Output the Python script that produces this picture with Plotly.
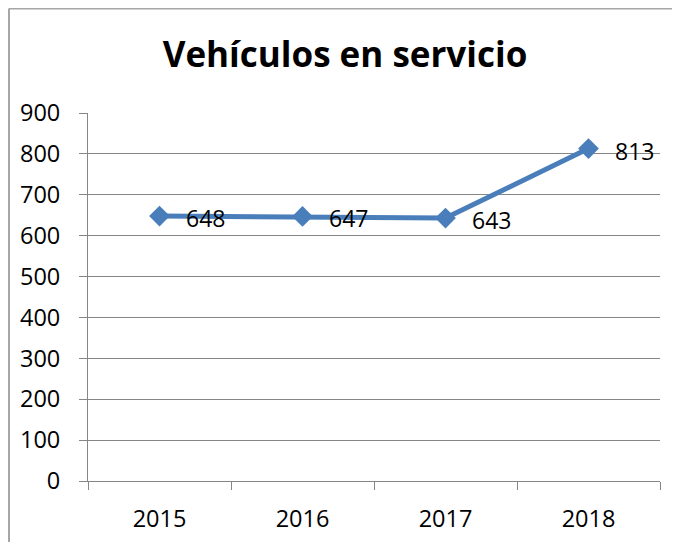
import plotly.graph_objects as go

years = ["2015", "2016", "2017", "2018"]
vehicles = [648, 647, 643, 813]
y_ticks = [0, 100, 200, 300, 400, 500, 600, 700, 800, 900]

title_text = "Vehículos en servicio"

OFF = 8  # browser default body margin
W, H = 682 - 2 * OFF, 542 - OFF
# plot area in page coords: left 88, right 660, top 113, bottom 481
L = 88 - OFF
T = 113 - OFF
R = W - (660 - OFF)
B = H - (481 - OFF)
pw = W - L - R
ph = H - T - B

fig = go.Figure()
fig.add_trace(go.Scatter(
    x=years, y=vehicles, mode="lines+markers",
    line=dict(color="#4A7EBB", width=5),
    marker=dict(symbol="diamond", size=16, color="#4A7EBB"),
    hoverinfo="skip", showlegend=False,
))

annotations = []
for i, v in enumerate(vehicles):
    annotations.append(dict(
        x=i, y=v, xref="x", yref="y", text=str(v), showarrow=False,
        xanchor="left", yanchor="middle", xshift=24, yshift=-2,
        font=dict(family="Open Sans", size=23, color="#000000"),
    ))

# chart border (top and left visible), figure px -> paper coords
fx = lambda px: (px - L) / pw
fy = lambda py: (H - B - py) / ph
shapes = [
    dict(type="line", xref="paper", yref="paper",
         x0=fx(1), x1=fx(W - 2), y0=fy(0.5), y1=fy(0.5),
         line=dict(color="#A6A6A6", width=2)),
    dict(type="line", xref="paper", yref="paper",
         x0=fx(1), x1=fx(1), y0=fy(0.5), y1=fy(H),
         line=dict(color="#A6A6A6", width=2)),
]

fig.update_layout(
    width=W, height=H,
    margin=dict(l=L, r=R, t=T, b=B),
    paper_bgcolor="white", plot_bgcolor="white",
    title=dict(text="<b>" + title_text + "</b>", x=(345 - OFF) / W, xref="container",
               xanchor="center", y=1 - (55 - OFF) / H, yanchor="middle",
               font=dict(family="Open Sans", size=35, color="#000000")),
    annotations=annotations,
    shapes=shapes,
    xaxis=dict(
        type="category", tickson="boundaries", ticks="outside",
        ticklen=8, tickcolor="#868686", tickwidth=1,
        showline=True, linecolor="#868686", linewidth=1,
        showgrid=False, zeroline=False, automargin=False,
        range=[-0.5, 3.5],
        tickfont=dict(family="Open Sans", size=23.5, color="#000000"),
        ticklabelstandoff=17,
    ),
    yaxis=dict(
        range=[0, 900], tickvals=y_ticks, ticktext=[str(t) for t in y_ticks],
        ticks="outside", ticklen=8, tickcolor="#868686", tickwidth=1,
        showline=True, linecolor="#868686", linewidth=1,
        showgrid=True, gridcolor="#868686", gridwidth=1,
        zeroline=False, automargin=False,
        tickfont=dict(family="Open Sans", size=23.5, color="#000000"),
        ticklabelstandoff=14,
    ),
)

fig.write_html("out.html")
